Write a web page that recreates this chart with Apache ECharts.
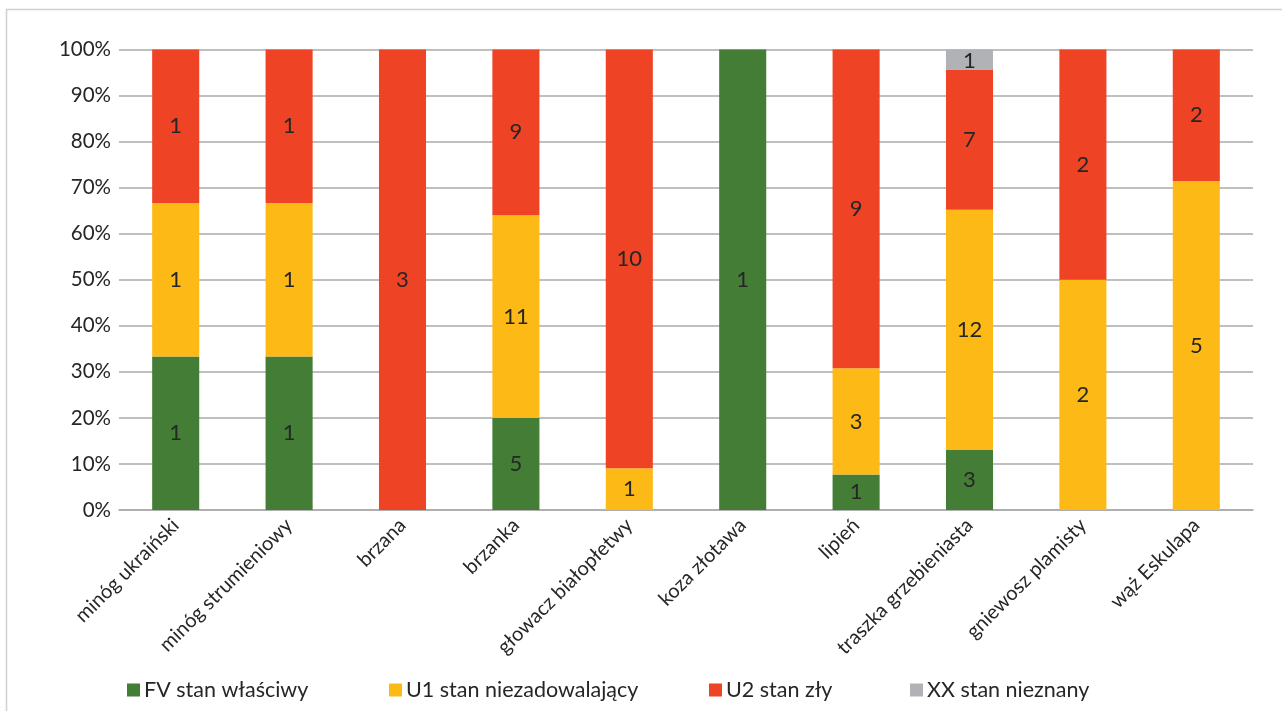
<!DOCTYPE html>
<html>
<head>
<meta charset="utf-8">
<script src="https://cdn.jsdelivr.net/npm/echarts@6/dist/echarts.min.js"></script>
<style>
  html, body { margin: 0; padding: 0; background: #fff; }
  #chart { width: 1282px; height: 711px; }
</style>
</head>
<body>
<div id="chart"></div>
<script>
// Species assessed
const categories = [
  'minóg ukraiński', 'minóg strumieniowy', 'brzana', 'brzanka',
  'głowacz białopłetwy', 'koza złotawa', 'lipień', 'traszka grzebieniasta',
  'gniewosz plamisty', 'wąż Eskulapa'
];

// Number of sites in each conservation status per species
const fvCounts = [1, 1, 0, 5, 0, 1, 1, 3, 0, 0];
const u1Counts = [1, 1, 0, 11, 1, 0, 3, 12, 2, 5];
const u2Counts = [1, 1, 3, 9, 10, 0, 9, 7, 2, 2];
const xxCounts = [0, 0, 0, 0, 0, 0, 0, 1, 0, 0];

const seriesNames = ['FV stan właściwy', 'U1 stan niezadowalający', 'U2 stan zły', 'XX stan nieznany'];
const seriesColors = ['#437D36', '#FDBA17', '#EE4324', '#B1B2B5'];

const yTicks = [0, 10, 20, 30, 40, 50, 60, 70, 80, 90, 100];

const allCounts = [fvCounts, u1Counts, u2Counts, xxCounts];
const totals = categories.map((_, i) => allCounts.reduce((s, arr) => s + arr[i], 0));

const FONT = 'Lato, "Open Sans", sans-serif';
const TEXT = '#262626';

const series = allCounts.map((counts, si) => ({
  name: seriesNames[si],
  type: 'bar',
  stack: 'total',
  barCategoryGap: '58.5%',
  itemStyle: { color: seriesColors[si] },
  label: {
    show: true,
    position: si === 3 ? 'insideTop' : 'inside',
    distance: 0,
    color: TEXT,
    fontFamily: FONT,
    fontSize: 22,
    formatter: p => (counts[p.dataIndex] > 0 ? String(counts[p.dataIndex]) : '')
  },
  emphasis: { disabled: true },
  data: counts.map((c, i) => (c / totals[i]) * 100)
}));

// one legend block per status, placed along the bottom row
const legendLefts = [122, 384, 704, 905];
const legends = seriesNames.map((name, i) => ({
  top: 674,
  left: legendLefts[i],
  itemWidth: 13,
  itemHeight: 13,
  icon: 'rect',
  selectedMode: false,
  textStyle: { color: TEXT, fontFamily: FONT, fontSize: 21.5, padding: [0, 0, 0, -1] },
  data: [name]
}));

const chart = echarts.init(document.getElementById('chart'), null, { renderer: 'canvas' });
chart.setOption({
  animation: false,
  backgroundColor: '#fff',
  graphic: [{
    type: 'rect',
    shape: { x: 6.5, y: 9.5, width: 1300, height: 760 },
    style: { fill: 'none', stroke: '#D0D0D0', lineWidth: 1.5 },
    z: -1
  }],
  grid: { left: 119, right: 29, top: 49.5, bottom: 201, containLabel: false },
  legend: legends,
  xAxis: {
    type: 'category',
    data: categories,
    axisLine: { lineStyle: { color: '#AAAAAA', width: 1.5 } },
    axisTick: { show: false },
    axisLabel: {
      interval: 0,
      rotate: 45,
      color: TEXT,
      fontFamily: FONT,
      fontSize: 20,
      margin: 12
    }
  },
  yAxis: {
    type: 'value',
    min: yTicks[0],
    max: yTicks[yTicks.length - 1],
    interval: 10,
    axisLine: { show: false },
    axisTick: { show: false },
    splitLine: { lineStyle: { color: '#AAAAAA', width: 1.5 } },
    axisLabel: {
      color: TEXT,
      fontFamily: FONT,
      fontSize: 20.5,
      margin: 8,
      formatter: '{value}%'
    }
  },
  series
});
</script>
</body>
</html>
